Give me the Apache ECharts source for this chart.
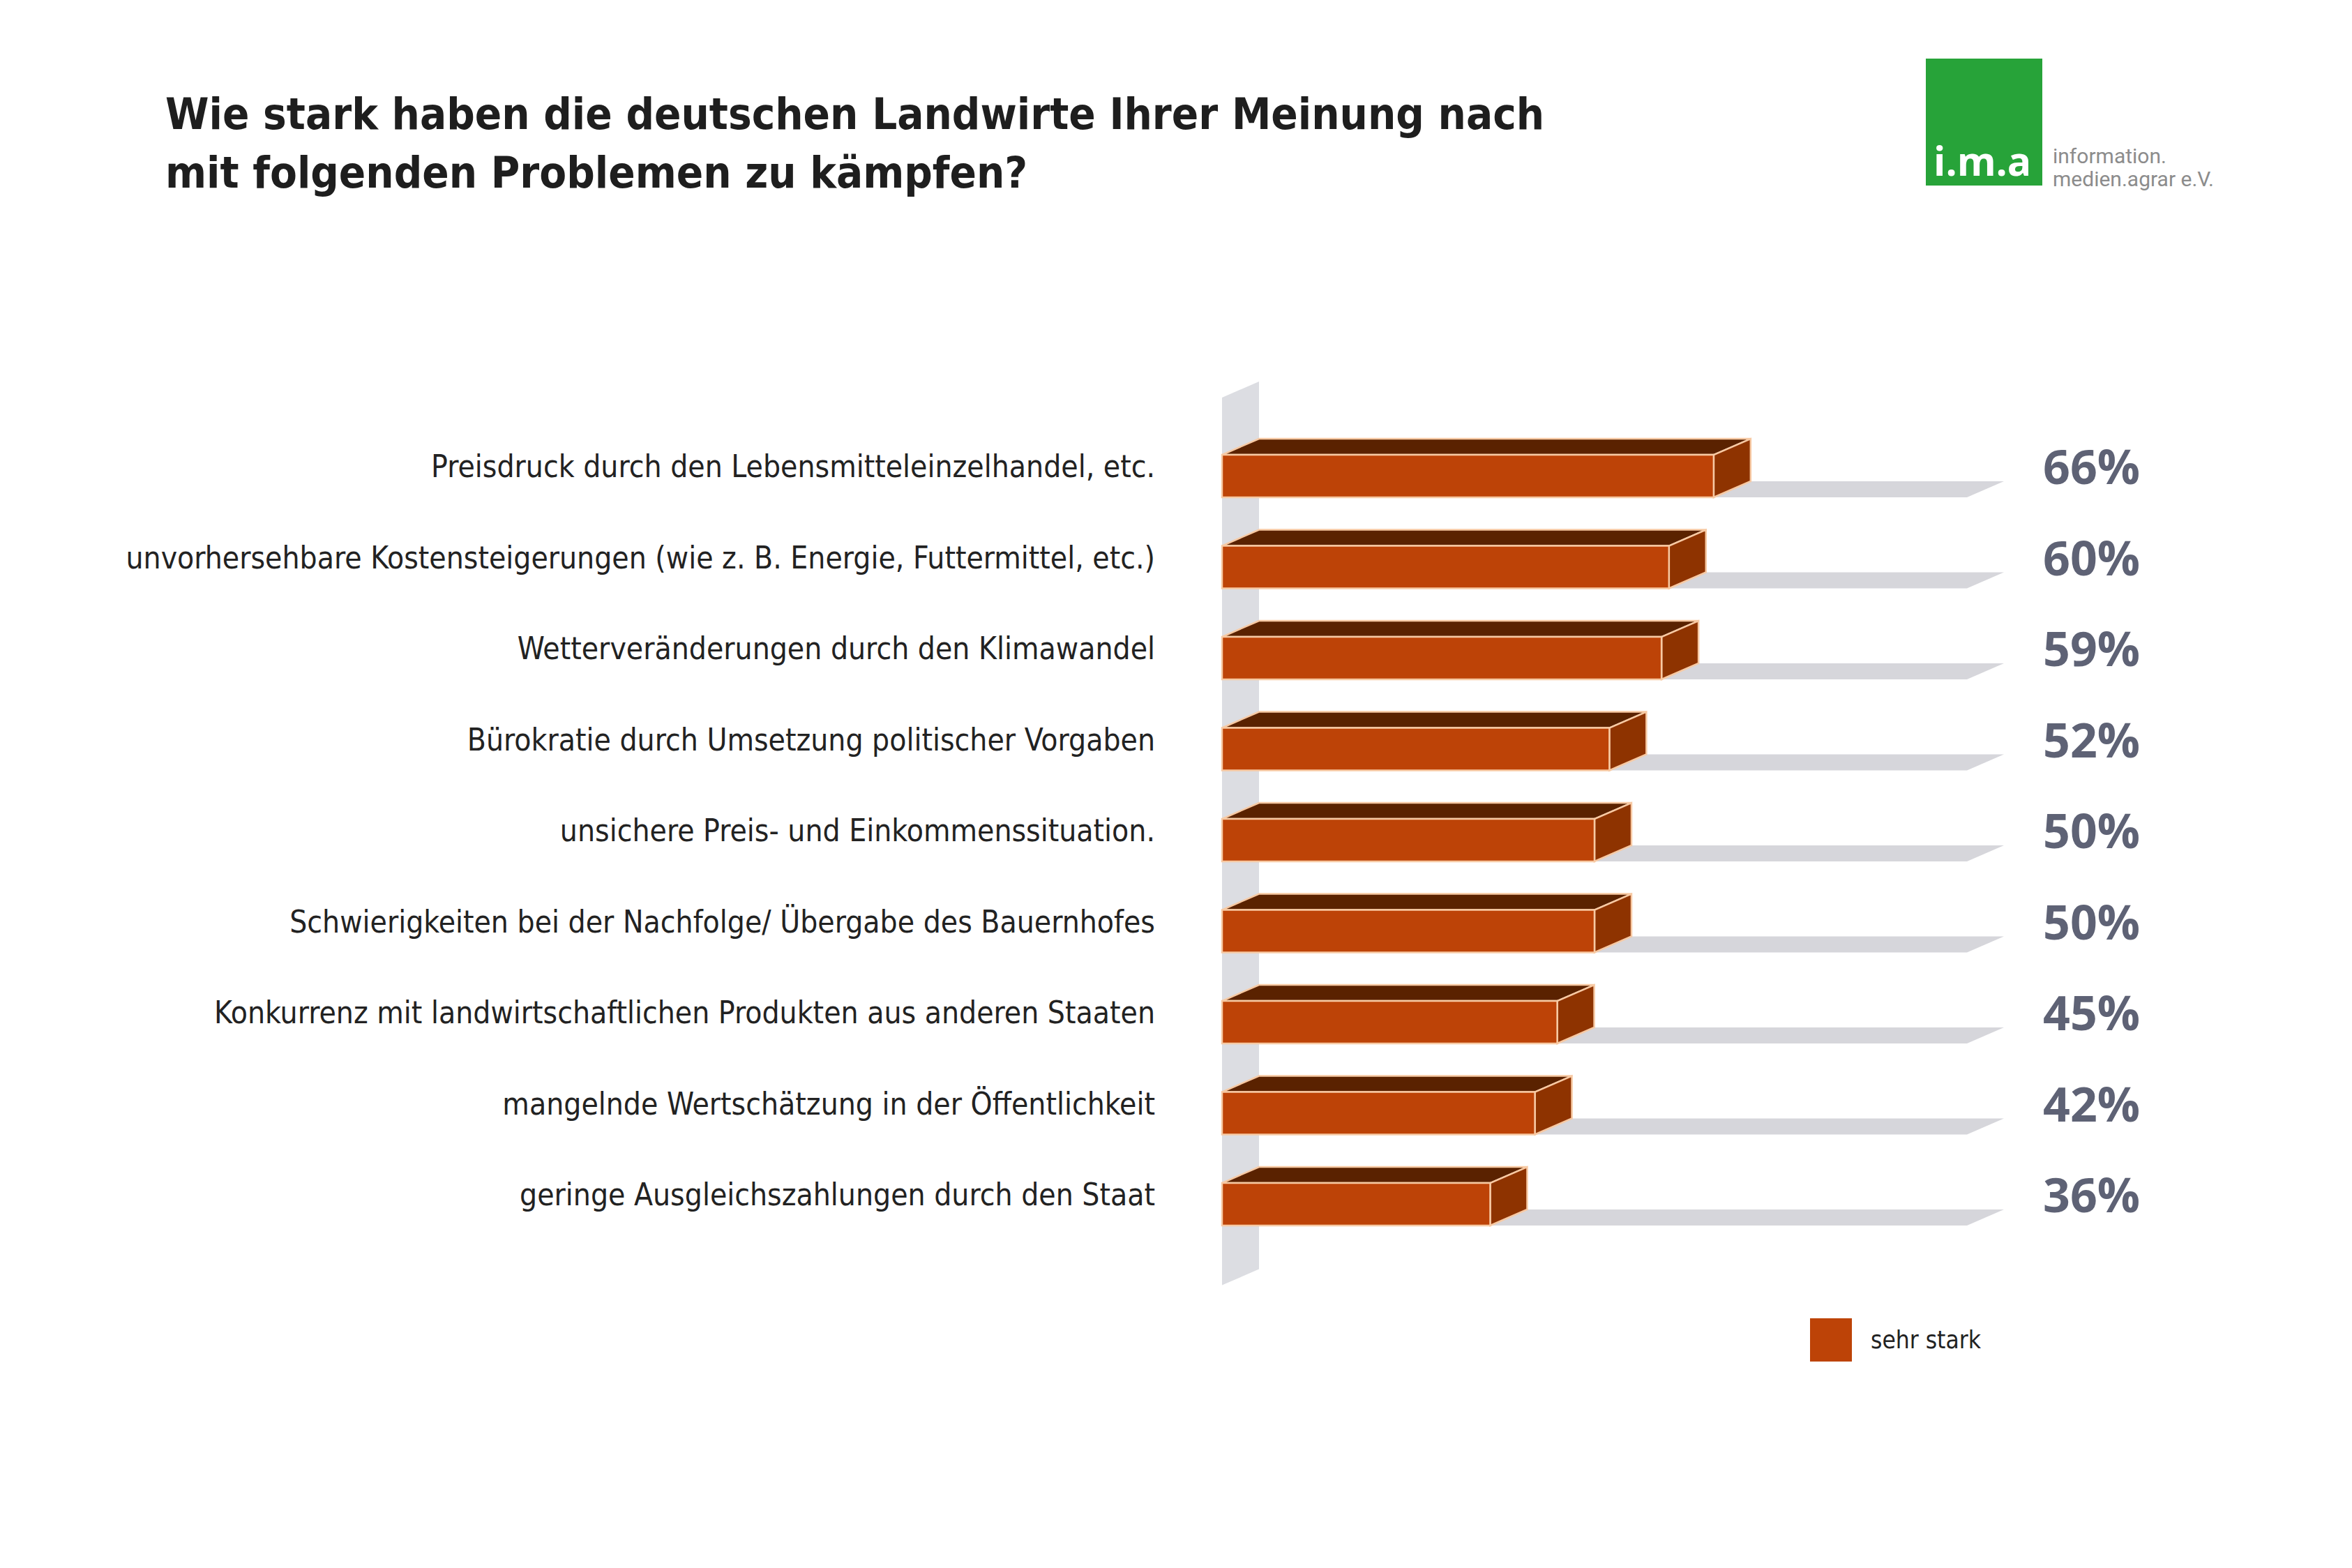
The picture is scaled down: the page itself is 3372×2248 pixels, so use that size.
<!DOCTYPE html>
<html><head><meta charset="utf-8">
<script src="https://cdn.jsdelivr.net/npm/echarts@6/dist/echarts.min.js"></script>
<style>html,body{margin:0;padding:0;background:#fff}#c{width:3372px;height:2248px}</style>
</head><body><div id="c"></div>
<script>
const categories = [
  'Preisdruck durch den Lebensmitteleinzelhandel, etc.',
  'unvorhersehbare Kostensteigerungen (wie z. B. Energie, Futtermittel, etc.)',
  'Wetterveränderungen durch den Klimawandel',
  'Bürokratie durch Umsetzung politischer Vorgaben',
  'unsichere Preis- und Einkommenssituation.',
  'Schwierigkeiten bei der Nachfolge/ Übergabe des Bauernhofes',
  'Konkurrenz mit landwirtschaftlichen Produkten aus anderen Staaten',
  'mangelnde Wertschätzung in der Öffentlichkeit',
  'geringe Ausgleichszahlungen durch den Staat'
];
const values = [66, 60, 59, 52, 50, 50, 45, 42, 36];
const seriesName = 'sehr stark';
const axisMax = 100;
const titleText = 'Wie stark haben die deutschen Landwirte Ihrer Meinung nach\nmit folgenden Problemen zu kämpfen?';

const NARROW = '"Liberation Sans Narrow", "DejaVu Sans Condensed", sans-serif';
const EDGE = '#f7c9a3';

function renderItem(params, api) {
  const idx = params.dataIndex;
  const v = api.value(0);
  const cat = api.value(1);
  const p0 = api.coord([0, cat]);
  const p1 = api.coord([v, cat]);
  const pm = api.coord([axisMax, cat]);
  const band = api.size([0, 1])[1];
  const h = band * 0.467, dx = band * 0.406, dy = band * 0.176;
  const yT = p0[1] - h / 2, yB = p0[1] + h / 2;
  const x0 = p0[0], x1 = p1[0], xm = pm[0];
  const ch = [];
  if (idx === 0) {
    const f = api.coord([0, 0]), l = api.coord([0, categories.length - 1]);
    const wt = f[1] - band * 0.862, wb = l[1] + band * 0.889;
    ch.push({type: 'polygon', shape: {points: [[x0, wt], [x0 + dx, wt - dy], [x0 + dx, wb - dy], [x0, wb]]}, style: {fill: '#dcdde2'}});
  }
  ch.push({type: 'polygon', shape: {points: [[x0, yB], [x0 + dx, yB - dy], [xm + dx, yB - dy], [xm, yB]]}, style: {fill: '#d6d6db'}});
  ch.push({type: 'polygon', shape: {points: [[x0, yT], [x0 + dx, yT - dy], [x1 + dx, yT - dy], [x1, yT]]}, style: {fill: '#5a2200', stroke: EDGE, lineWidth: 2.5}});
  ch.push({type: 'polygon', shape: {points: [[x1, yT], [x1 + dx, yT - dy], [x1 + dx, yB - dy], [x1, yB]]}, style: {fill: '#8e3300', stroke: EDGE, lineWidth: 2.5}});
  ch.push({type: 'rect', shape: {x: x0, y: yT, width: x1 - x0, height: h}, style: {fill: '#bd4307', stroke: EDGE, lineWidth: 2.5}});
  ch.push({type: 'text', x: xm + 109, y: p0[1] - 15, style: {text: values[idx] + '%', fill: '#5e6275', fontSize: 68, fontWeight: 'bold', fontFamily: '"Open Sans", sans-serif', verticalAlign: 'middle', align: 'left'}});
  return {type: 'group', children: ch};
}

const chart = echarts.init(document.getElementById('c'), null, {renderer: 'svg', width: 3372, height: 2248});
chart.setOption({
  backgroundColor: '#fff',
  animation: false,
  title: {
    text: titleText, left: 232, top: 116,
    textStyle: {fontSize: 63, fontWeight: 'bold', color: '#1e1e1e', fontFamily: NARROW, lineHeight: 84}
  },
  legend: {
    data: [seriesName], left: 2595, top: 1890, icon: 'rect', itemWidth: 60, itemHeight: 62, padding: 0,
    textStyle: {fontSize: 35, color: '#222', fontFamily: NARROW, padding: [0, 0, 0, 22]}
  },
  grid: {left: 1752, right: 552, top: 617.25, height: 1174.5, containLabel: false},
  xAxis: {type: 'value', min: 0, max: axisMax, show: false},
  yAxis: {
    type: 'category', data: categories, inverse: true,
    axisLine: {show: false}, axisTick: {show: false}, splitLine: {show: false},
    axisLabel: {margin: 96, fontSize: 44, color: '#222', fontFamily: NARROW, verticalAlign: 'bottom', lineHeight: 28}
  },
  graphic: [
    {type: 'rect', left: 2761, top: 84, shape: {width: 167, height: 182}, style: {fill: '#27a339'}},
    {type: 'text', x: 2772, y: 230, style: {text: 'i.m.a', fill: '#fff', fontSize: 57, fontWeight: 'bold', fontFamily: '"Open Sans", sans-serif', verticalAlign: 'middle'}},
    {type: 'text', x: 2943, y: 223, style: {text: 'information.', fill: '#8c8c8c', fontSize: 30, fontFamily: 'Roboto, sans-serif', verticalAlign: 'middle'}},
    {type: 'text', x: 2943, y: 256, style: {text: 'medien.agrar e.V.', fill: '#8c8c8c', fontSize: 30, fontFamily: 'Roboto, sans-serif', verticalAlign: 'middle'}}
  ],
  series: [{
    type: 'custom', name: seriesName, renderItem: renderItem,
    itemStyle: {color: '#bd4307'},
    encode: {x: 0, y: 1},
    data: values.map((v, i) => [v, i])
  }]
});
</script></body></html>
